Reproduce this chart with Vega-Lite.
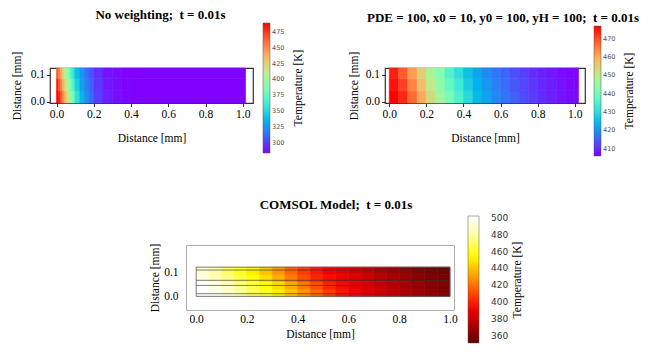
{
  "$schema": "https://vega.github.io/schema/vega-lite/v6.json",
  "background": "white",
  "padding": {"left": 10, "top": 8, "right": 5, "bottom": 5},
  "config": {
    "view": {"stroke": "#333", "strokeWidth": 1.2},
    "font": "Liberation Serif",
    "title": {"font": "Liberation Serif", "fontSize": 13, "fontWeight": "bold", "color": "black"},
    "axis": {"labelFont": "Liberation Serif", "labelFontSize": 11.5, "labelColor": "black", "titleFont": "Liberation Serif", "titleFontSize": 11.5, "titleFontWeight": "normal", "titleColor": "black", "grid": false, "domain": false, "tickColor": "#333", "tickSize": 3.5, "labelPadding": 2},
    "legend": {"direction": "vertical", "gradientThickness": 7, "gradientLength": 130, "labelFont": "DejaVu Sans", "labelFontSize": 6.5, "labelColor": "#555", "labelOffset": 5, "titleFont": "Liberation Serif", "titleFontSize": 11.5, "titleFontWeight": "normal", "titleColor": "black", "titleOrient": "right", "titlePadding": 9, "titleAnchor": "middle", "titleLimit": 300, "gradientStrokeColor": "#555", "gradientStrokeWidth": 0.5}
  },
  "datasets": {
    "A": [
      {"x":0,"x2":0.01,"y":-0.005,"y2":0.04,"T":489},{"x":0.01,"x2":0.02,"y":-0.005,"y2":0.04,"T":482},{"x":0.02,"x2":0.03,"y":-0.005,"y2":0.04,"T":468},{"x":0.03,"x2":0.04,"y":-0.005,"y2":0.04,"T":454.5},{"x":0.04,"x2":0.05,"y":-0.005,"y2":0.04,"T":441},{"x":0.05,"x2":0.06,"y":-0.005,"y2":0.04,"T":426.5},{"x":0.06,"x2":0.07,"y":-0.005,"y2":0.04,"T":412},{"x":0.07,"x2":0.08,"y":-0.005,"y2":0.04,"T":398.5},{"x":0.08,"x2":0.09,"y":-0.005,"y2":0.04,"T":386},{"x":0.09,"x2":0.1,"y":-0.005,"y2":0.04,"T":374},{"x":0.1,"x2":0.125,"y":-0.005,"y2":0.04,"T":355},{"x":0.125,"x2":0.15,"y":-0.005,"y2":0.04,"T":336},{"x":0.15,"x2":0.175,"y":-0.005,"y2":0.04,"T":323},{"x":0.175,"x2":0.2,"y":-0.005,"y2":0.04,"T":312},{"x":0.2,"x2":0.25,"y":-0.005,"y2":0.04,"T":300},{"x":0.25,"x2":0.3,"y":-0.005,"y2":0.04,"T":291.5},{"x":0.3,"x2":0.35,"y":-0.005,"y2":0.04,"T":287.5},{"x":0.35,"x2":0.4,"y":-0.005,"y2":0.04,"T":285.5},{"x":0.4,"x2":1.015,"y":-0.005,"y2":0.04,"T":284},
      {"x":0,"x2":0.01,"y":0.04,"y2":0.085,"T":482},{"x":0.01,"x2":0.02,"y":0.04,"y2":0.085,"T":468},{"x":0.02,"x2":0.03,"y":0.04,"y2":0.085,"T":454.5},{"x":0.03,"x2":0.04,"y":0.04,"y2":0.085,"T":441},{"x":0.04,"x2":0.05,"y":0.04,"y2":0.085,"T":426.5},{"x":0.05,"x2":0.06,"y":0.04,"y2":0.085,"T":412},{"x":0.06,"x2":0.07,"y":0.04,"y2":0.085,"T":398.5},{"x":0.07,"x2":0.08,"y":0.04,"y2":0.085,"T":386},{"x":0.08,"x2":0.09,"y":0.04,"y2":0.085,"T":374},{"x":0.09,"x2":0.1,"y":0.04,"y2":0.085,"T":362.5},{"x":0.1,"x2":0.125,"y":0.04,"y2":0.085,"T":347},{"x":0.125,"x2":0.15,"y":0.04,"y2":0.085,"T":330.5},{"x":0.15,"x2":0.175,"y":0.04,"y2":0.085,"T":318.5},{"x":0.175,"x2":0.2,"y":0.04,"y2":0.085,"T":308.5},{"x":0.2,"x2":0.25,"y":0.04,"y2":0.085,"T":298},{"x":0.25,"x2":0.3,"y":0.04,"y2":0.085,"T":290},{"x":0.3,"x2":0.35,"y":0.04,"y2":0.085,"T":287},{"x":0.35,"x2":0.4,"y":0.04,"y2":0.085,"T":285},{"x":0.4,"x2":1.015,"y":0.04,"y2":0.085,"T":284},
      {"x":0,"x2":0.01,"y":0.085,"y2":0.125,"T":468},{"x":0.01,"x2":0.02,"y":0.085,"y2":0.125,"T":454.5},{"x":0.02,"x2":0.03,"y":0.085,"y2":0.125,"T":441},{"x":0.03,"x2":0.04,"y":0.085,"y2":0.125,"T":426.5},{"x":0.04,"x2":0.05,"y":0.085,"y2":0.125,"T":412},{"x":0.05,"x2":0.06,"y":0.085,"y2":0.125,"T":398.5},{"x":0.06,"x2":0.07,"y":0.085,"y2":0.125,"T":386},{"x":0.07,"x2":0.08,"y":0.085,"y2":0.125,"T":374},{"x":0.08,"x2":0.09,"y":0.085,"y2":0.125,"T":362.5},{"x":0.09,"x2":0.1,"y":0.085,"y2":0.125,"T":353},{"x":0.1,"x2":0.125,"y":0.085,"y2":0.125,"T":339},{"x":0.125,"x2":0.15,"y":0.085,"y2":0.125,"T":325},{"x":0.15,"x2":0.175,"y":0.085,"y2":0.125,"T":314},{"x":0.175,"x2":0.2,"y":0.085,"y2":0.125,"T":305},{"x":0.2,"x2":0.25,"y":0.085,"y2":0.125,"T":296.5},{"x":0.25,"x2":0.3,"y":0.085,"y2":0.125,"T":289},{"x":0.3,"x2":0.35,"y":0.085,"y2":0.125,"T":286.5},{"x":0.35,"x2":0.4,"y":0.085,"y2":0.125,"T":284.5},{"x":0.4,"x2":1.015,"y":0.085,"y2":0.125,"T":284}
    ],
    "B": [
      {"x":0,"x2":0.05,"y":-0.005,"y2":0.04,"T":476.7},{"x":0.05,"x2":0.1,"y":-0.005,"y2":0.04,"T":473.4},{"x":0.1,"x2":0.15,"y":-0.005,"y2":0.04,"T":467.3},{"x":0.15,"x2":0.2,"y":-0.005,"y2":0.04,"T":460.3},{"x":0.2,"x2":0.25,"y":-0.005,"y2":0.04,"T":453.3},{"x":0.25,"x2":0.3,"y":-0.005,"y2":0.04,"T":446.4},{"x":0.3,"x2":0.35,"y":-0.005,"y2":0.04,"T":440.4},{"x":0.35,"x2":0.4,"y":-0.005,"y2":0.04,"T":434.5},{"x":0.4,"x2":0.45,"y":-0.005,"y2":0.04,"T":429.5},{"x":0.45,"x2":0.5,"y":-0.005,"y2":0.04,"T":424.7},{"x":0.5,"x2":0.55,"y":-0.005,"y2":0.04,"T":421.7},{"x":0.55,"x2":0.6,"y":-0.005,"y2":0.04,"T":418.8},{"x":0.6,"x2":0.65,"y":-0.005,"y2":0.04,"T":416.8},{"x":0.65,"x2":0.7,"y":-0.005,"y2":0.04,"T":414.8},{"x":0.7,"x2":0.75,"y":-0.005,"y2":0.04,"T":412.9},{"x":0.75,"x2":0.8,"y":-0.005,"y2":0.04,"T":411.4},{"x":0.8,"x2":0.85,"y":-0.005,"y2":0.04,"T":409.9},{"x":0.85,"x2":0.9,"y":-0.005,"y2":0.04,"T":408.9},{"x":0.9,"x2":0.95,"y":-0.005,"y2":0.04,"T":407.9},{"x":0.95,"x2":1.0,"y":-0.005,"y2":0.04,"T":407},{"x":1.0,"x2":1.02,"y":-0.005,"y2":0.04,"T":406.6},
      {"x":0,"x2":0.05,"y":0.04,"y2":0.085,"T":475.5},{"x":0.05,"x2":0.1,"y":0.04,"y2":0.085,"T":471},{"x":0.1,"x2":0.15,"y":0.04,"y2":0.085,"T":464.5},{"x":0.15,"x2":0.2,"y":0.04,"y2":0.085,"T":457.5},{"x":0.2,"x2":0.25,"y":0.04,"y2":0.085,"T":450.5},{"x":0.25,"x2":0.3,"y":0.04,"y2":0.085,"T":444},{"x":0.3,"x2":0.35,"y":0.04,"y2":0.085,"T":438},{"x":0.35,"x2":0.4,"y":0.04,"y2":0.085,"T":432.5},{"x":0.4,"x2":0.45,"y":0.04,"y2":0.085,"T":427.5},{"x":0.45,"x2":0.5,"y":0.04,"y2":0.085,"T":423.5},{"x":0.5,"x2":0.55,"y":0.04,"y2":0.085,"T":420.5},{"x":0.55,"x2":0.6,"y":0.04,"y2":0.085,"T":418},{"x":0.6,"x2":0.65,"y":0.04,"y2":0.085,"T":416},{"x":0.65,"x2":0.7,"y":0.04,"y2":0.085,"T":414},{"x":0.7,"x2":0.75,"y":0.04,"y2":0.085,"T":412.3},{"x":0.75,"x2":0.8,"y":0.04,"y2":0.085,"T":410.8},{"x":0.8,"x2":0.85,"y":0.04,"y2":0.085,"T":409.5},{"x":0.85,"x2":0.9,"y":0.04,"y2":0.085,"T":408.5},{"x":0.9,"x2":0.95,"y":0.04,"y2":0.085,"T":407.5},{"x":0.95,"x2":1.0,"y":0.04,"y2":0.085,"T":406.8},{"x":1.0,"x2":1.02,"y":0.04,"y2":0.085,"T":406.3},
      {"x":0,"x2":0.05,"y":0.085,"y2":0.125,"T":474.3},{"x":0.05,"x2":0.1,"y":0.085,"y2":0.125,"T":468.6},{"x":0.1,"x2":0.15,"y":0.085,"y2":0.125,"T":461.7},{"x":0.15,"x2":0.2,"y":0.085,"y2":0.125,"T":454.7},{"x":0.2,"x2":0.25,"y":0.085,"y2":0.125,"T":447.7},{"x":0.25,"x2":0.3,"y":0.085,"y2":0.125,"T":441.6},{"x":0.3,"x2":0.35,"y":0.085,"y2":0.125,"T":435.6},{"x":0.35,"x2":0.4,"y":0.085,"y2":0.125,"T":430.5},{"x":0.4,"x2":0.45,"y":0.085,"y2":0.125,"T":425.5},{"x":0.45,"x2":0.5,"y":0.085,"y2":0.125,"T":422.3},{"x":0.5,"x2":0.55,"y":0.085,"y2":0.125,"T":419.3},{"x":0.55,"x2":0.6,"y":0.085,"y2":0.125,"T":417.2},{"x":0.6,"x2":0.65,"y":0.085,"y2":0.125,"T":415.2},{"x":0.65,"x2":0.7,"y":0.085,"y2":0.125,"T":413.2},{"x":0.7,"x2":0.75,"y":0.085,"y2":0.125,"T":411.7},{"x":0.75,"x2":0.8,"y":0.085,"y2":0.125,"T":410.2},{"x":0.8,"x2":0.85,"y":0.085,"y2":0.125,"T":409.1},{"x":0.85,"x2":0.9,"y":0.085,"y2":0.125,"T":408.1},{"x":0.9,"x2":0.95,"y":0.085,"y2":0.125,"T":407.1},{"x":0.95,"x2":1.0,"y":0.085,"y2":0.125,"T":406.5},{"x":1.0,"x2":1.02,"y":0.085,"y2":0.125,"T":406.1}
    ],
    "C": [
      {"x":0,"x2":0.05,"y":0,"y2":0.03,"T":502},{"x":0.05,"x2":0.1,"y":0,"y2":0.03,"T":499},{"x":0.1,"x2":0.15,"y":0,"y2":0.03,"T":490},{"x":0.15,"x2":0.2,"y":0,"y2":0.03,"T":480},{"x":0.2,"x2":0.25,"y":0,"y2":0.03,"T":470},{"x":0.25,"x2":0.3,"y":0,"y2":0.03,"T":460.5},{"x":0.3,"x2":0.35,"y":0,"y2":0.03,"T":451},{"x":0.35,"x2":0.4,"y":0,"y2":0.03,"T":440.5},{"x":0.4,"x2":0.45,"y":0,"y2":0.03,"T":429},{"x":0.45,"x2":0.5,"y":0,"y2":0.03,"T":417.5},{"x":0.5,"x2":0.55,"y":0,"y2":0.03,"T":407},{"x":0.55,"x2":0.6,"y":0,"y2":0.03,"T":398.5},{"x":0.6,"x2":0.65,"y":0,"y2":0.03,"T":392.5},{"x":0.65,"x2":0.7,"y":0,"y2":0.03,"T":387.5},{"x":0.7,"x2":0.75,"y":0,"y2":0.03,"T":382.5},{"x":0.75,"x2":0.8,"y":0,"y2":0.03,"T":377.5},{"x":0.8,"x2":0.85,"y":0,"y2":0.03,"T":373},{"x":0.85,"x2":0.9,"y":0,"y2":0.03,"T":369},{"x":0.9,"x2":0.95,"y":0,"y2":0.03,"T":365},{"x":0.95,"x2":1.0,"y":0,"y2":0.03,"T":361.5},
      {"x":0,"x2":0.05,"y":0.03,"y2":0.06,"T":502},{"x":0.05,"x2":0.1,"y":0.03,"y2":0.06,"T":495},{"x":0.1,"x2":0.15,"y":0.03,"y2":0.06,"T":485},{"x":0.15,"x2":0.2,"y":0.03,"y2":0.06,"T":475},{"x":0.2,"x2":0.25,"y":0.03,"y2":0.06,"T":465},{"x":0.25,"x2":0.3,"y":0.03,"y2":0.06,"T":456},{"x":0.3,"x2":0.35,"y":0.03,"y2":0.06,"T":446},{"x":0.35,"x2":0.4,"y":0.03,"y2":0.06,"T":435},{"x":0.4,"x2":0.45,"y":0.03,"y2":0.06,"T":423},{"x":0.45,"x2":0.5,"y":0.03,"y2":0.06,"T":412},{"x":0.5,"x2":0.55,"y":0.03,"y2":0.06,"T":402},{"x":0.55,"x2":0.6,"y":0.03,"y2":0.06,"T":395},{"x":0.6,"x2":0.65,"y":0.03,"y2":0.06,"T":390},{"x":0.65,"x2":0.7,"y":0.03,"y2":0.06,"T":385},{"x":0.7,"x2":0.75,"y":0.03,"y2":0.06,"T":380},{"x":0.75,"x2":0.8,"y":0.03,"y2":0.06,"T":375},{"x":0.8,"x2":0.85,"y":0.03,"y2":0.06,"T":371},{"x":0.85,"x2":0.9,"y":0.03,"y2":0.06,"T":367},{"x":0.9,"x2":0.95,"y":0.03,"y2":0.06,"T":363},{"x":0.95,"x2":1.0,"y":0.03,"y2":0.06,"T":360},
      {"x":0,"x2":0.05,"y":0.06,"y2":0.09,"T":495},{"x":0.05,"x2":0.1,"y":0.06,"y2":0.09,"T":485},{"x":0.1,"x2":0.15,"y":0.06,"y2":0.09,"T":475},{"x":0.15,"x2":0.2,"y":0.06,"y2":0.09,"T":465},{"x":0.2,"x2":0.25,"y":0.06,"y2":0.09,"T":456},{"x":0.25,"x2":0.3,"y":0.06,"y2":0.09,"T":446},{"x":0.3,"x2":0.35,"y":0.06,"y2":0.09,"T":435},{"x":0.35,"x2":0.4,"y":0.06,"y2":0.09,"T":423},{"x":0.4,"x2":0.45,"y":0.06,"y2":0.09,"T":412},{"x":0.45,"x2":0.5,"y":0.06,"y2":0.09,"T":402},{"x":0.5,"x2":0.55,"y":0.06,"y2":0.09,"T":395},{"x":0.55,"x2":0.6,"y":0.06,"y2":0.09,"T":390},{"x":0.6,"x2":0.65,"y":0.06,"y2":0.09,"T":385},{"x":0.65,"x2":0.7,"y":0.06,"y2":0.09,"T":380},{"x":0.7,"x2":0.75,"y":0.06,"y2":0.09,"T":375},{"x":0.75,"x2":0.8,"y":0.06,"y2":0.09,"T":371},{"x":0.8,"x2":0.85,"y":0.06,"y2":0.09,"T":367},{"x":0.85,"x2":0.9,"y":0.06,"y2":0.09,"T":363},{"x":0.9,"x2":0.95,"y":0.06,"y2":0.09,"T":360},{"x":0.95,"x2":1.0,"y":0.06,"y2":0.09,"T":358},
      {"x":0,"x2":0.05,"y":0.09,"y2":0.12,"T":490},{"x":0.05,"x2":0.1,"y":0.09,"y2":0.12,"T":480},{"x":0.1,"x2":0.15,"y":0.09,"y2":0.12,"T":470},{"x":0.15,"x2":0.2,"y":0.09,"y2":0.12,"T":460.5},{"x":0.2,"x2":0.25,"y":0.09,"y2":0.12,"T":451},{"x":0.25,"x2":0.3,"y":0.09,"y2":0.12,"T":440.5},{"x":0.3,"x2":0.35,"y":0.09,"y2":0.12,"T":429},{"x":0.35,"x2":0.4,"y":0.09,"y2":0.12,"T":417.5},{"x":0.4,"x2":0.45,"y":0.09,"y2":0.12,"T":407},{"x":0.45,"x2":0.5,"y":0.09,"y2":0.12,"T":398.5},{"x":0.5,"x2":0.55,"y":0.09,"y2":0.12,"T":392.5},{"x":0.55,"x2":0.6,"y":0.09,"y2":0.12,"T":387.5},{"x":0.6,"x2":0.65,"y":0.09,"y2":0.12,"T":382.5},{"x":0.65,"x2":0.7,"y":0.09,"y2":0.12,"T":377.5},{"x":0.7,"x2":0.75,"y":0.09,"y2":0.12,"T":373},{"x":0.75,"x2":0.8,"y":0.09,"y2":0.12,"T":369},{"x":0.8,"x2":0.85,"y":0.09,"y2":0.12,"T":365},{"x":0.85,"x2":0.9,"y":0.09,"y2":0.12,"T":361.5},{"x":0.9,"x2":0.95,"y":0.09,"y2":0.12,"T":359},{"x":0.95,"x2":1.0,"y":0.09,"y2":0.12,"T":357}
    ],
    "mesh": [
      {"x":0,"x2":1,"y":0.011},{"x":0,"x2":1,"y":0.045},{"x":0,"x2":1,"y":0.066},{"x":0,"x2":1,"y":0.108}
    ],
    "box": [{"x":0,"x2":1,"y":0,"y2":0.12}]
  },
  "vconcat": [
    {
      "hconcat": [
        {
          "width": 203, "height": 35,
          "title": {"text": "No weighting;\u00a0 t = 0.01s", "dx": 9, "offset": 1},
          "data": {"name": "A"},
          "mark": {"type": "rect", "strokeWidth": 0.6},
          "encoding": {
            "x": {"field": "x", "type": "quantitative", "scale": {"domain": [-0.035, 1.055], "nice": false, "zero": false}, "axis": {"values": [0, 0.2, 0.4, 0.6, 0.8, 1.0], "format": ".1f", "title": "Distance [mm]", "titlePadding": 12}},
            "x2": {"field": "x2"},
            "y": {"field": "y", "type": "quantitative", "scale": {"domain": [-0.005, 0.125], "nice": false, "zero": false}, "axis": {"values": [0, 0.1], "format": ".1f", "title": "Distance [mm]", "titlePadding": 8}},
            "y2": {"field": "y2"},
            "color": {"field": "T", "type": "quantitative", "scale": {"domain": [284, 309.625, 335.25, 360.875, 386.5, 412.125, 437.75, 463.375, 489], "range": ["#8000ff", "#4062fa", "#00b5eb", "#40ecd4", "#80ffb4", "#c0eb8d", "#ffb360", "#ff6232", "#ff0000"], "interpolate": "rgb"}, "legend": {"title": "Temperature [K]", "orient": "none", "legendX": 213, "legendY": -45, "values": [300, 325, 350, 375, 400, 425, 450, 475], "encode": {"title": {"update": {"angle": {"value": 270}, "baseline": {"value": "top"}}}}}},
            "stroke": {"field": "T", "type": "quantitative", "scale": {"domain": [284.01, 309.625, 335.25, 360.875, 386.5, 412.125, 437.75, 463.375, 489], "range": ["#8000ff", "#4062fa", "#00b5eb", "#40ecd4", "#80ffb4", "#c0eb8d", "#ffb360", "#ff6232", "#ff0000"], "interpolate": "rgb"}, "legend": null}
          }
        },
        {
          "width": 200, "height": 35,
          "title": {"text": "PDE = 100, x0 = 10, y0 = 100, yH = 100;\u00a0 t = 0.01s", "dx": 18, "offset": 1},
          "data": {"name": "B"},
          "mark": {"type": "rect", "strokeWidth": 0.6},
          "encoding": {
            "x": {"field": "x", "type": "quantitative", "scale": {"domain": [-0.023, 1.055], "nice": false, "zero": false}, "axis": {"values": [0, 0.2, 0.4, 0.6, 0.8, 1.0], "format": ".1f", "title": "Distance [mm]", "titlePadding": 12}},
            "x2": {"field": "x2"},
            "y": {"field": "y", "type": "quantitative", "scale": {"domain": [-0.005, 0.125], "nice": false, "zero": false}, "axis": {"values": [0, 0.1], "format": ".1f", "title": "Distance [mm]", "titlePadding": 6}},
            "y2": {"field": "y2"},
            "color": {"field": "T", "type": "quantitative", "scale": {"domain": [406, 414.875, 423.75, 432.625, 441.5, 450.375, 459.25, 468.125, 477], "range": ["#8000ff", "#4062fa", "#00b5eb", "#40ecd4", "#80ffb4", "#c0eb8d", "#ffb360", "#ff6232", "#ff0000"], "interpolate": "rgb"}, "legend": {"title": "Temperature [K]", "orient": "none", "legendX": 209, "legendY": -42, "values": [410, 420, 430, 440, 450, 460, 470], "encode": {"title": {"update": {"angle": {"value": 270}, "baseline": {"value": "top"}}}}}},
            "stroke": {"field": "T", "type": "quantitative", "scale": {"domain": [406.01, 414.875, 423.75, 432.625, 441.5, 450.375, 459.25, 468.125, 477], "range": ["#8000ff", "#4062fa", "#00b5eb", "#40ecd4", "#80ffb4", "#c0eb8d", "#ffb360", "#ff6232", "#ff0000"], "interpolate": "rgb"}, "legend": null}
          }
        }
      ],
      "spacing": 132,
      "bounds": "flush",
      "resolve": {"scale": {"color": "independent", "stroke": "independent", "x": "independent", "y": "independent"}, "legend": {"color": "independent", "stroke": "independent"}}
    },
    {
      "hconcat": [
        {
          "width": 1, "height": 1,
          "data": {"values": []},
          "mark": "point",
          "view": {"stroke": null}
        },
        {
          "width": 268, "height": 65,
          "title": {"text": "COMSOL Model;\u00a0 t = 0.01s", "dx": 16, "offset": 4},
          "view": {"stroke": "#b0b0b0", "strokeWidth": 1},
          "layer": [
            {
              "data": {"name": "C"},
              "mark": {"type": "rect", "strokeWidth": 0.6},
              "encoding": {
                "x": {"field": "x", "type": "quantitative", "scale": {"domain": [-0.04, 1.016], "nice": false, "zero": false}, "axis": {"values": [0, 0.2, 0.4, 0.6, 0.8, 1.0], "format": ".1f", "title": "Distance [mm]", "titlePadding": 4, "ticks": false, "labelPadding": 3}},
                "x2": {"field": "x2"},
                "y": {"field": "y", "type": "quantitative", "scale": {"domain": [-0.056, 0.211], "nice": false, "zero": false}, "axis": {"values": [0, 0.1], "format": ".1f", "title": "Distance [mm]", "titlePadding": 3, "ticks": false, "labelPadding": 8}},
                "y2": {"field": "y2"},
                "color": {"field": "T", "type": "quantitative", "scale": {"domain": [352, 365, 380, 392, 410, 430, 455, 480, 502], "range": ["#5e0000", "#8f0000", "#c80000", "#f00000", "#ff4500", "#ff9a00", "#ffff00", "#ffffa8", "#ffffff"], "interpolate": "rgb"}, "legend": {"title": "Temperature [K]", "orient": "none", "legendX": 282, "legendY": -29, "gradientLength": 127, "gradientThickness": 11, "labelFontSize": 9, "labelColor": "#333", "labelOffset": 12, "titlePadding": 4, "values": [360, 380, 400, 420, 440, 460, 480, 500], "encode": {"title": {"update": {"angle": {"value": 270}, "baseline": {"value": "top"}}}}}},
                "stroke": {"field": "T", "type": "quantitative", "scale": {"domain": [352.01, 365, 380, 392, 410, 430, 455, 480, 502], "range": ["#5e0000", "#8f0000", "#c80000", "#f00000", "#ff4500", "#ff9a00", "#ffff00", "#ffffa8", "#ffffff"], "interpolate": "rgb"}, "legend": null}
              }
            },
            {
              "data": {"name": "mesh"},
              "mark": {"type": "rule", "color": "#333", "strokeWidth": 0.8, "opacity": 0.8},
              "encoding": {
                "x": {"field": "x", "type": "quantitative", "scale": {"domain": [-0.04, 1.016], "nice": false, "zero": false}},
                "x2": {"field": "x2"},
                "y": {"field": "y", "type": "quantitative", "scale": {"domain": [-0.056, 0.211], "nice": false, "zero": false}}
              }
            },
            {
              "data": {"name": "box"},
              "mark": {"type": "rect", "filled": false, "stroke": "#555", "strokeWidth": 0.8},
              "encoding": {
                "x": {"field": "x", "type": "quantitative", "scale": {"domain": [-0.04, 1.016], "nice": false, "zero": false}},
                "x2": {"field": "x2"},
                "y": {"field": "y", "type": "quantitative", "scale": {"domain": [-0.056, 0.211], "nice": false, "zero": false}},
                "y2": {"field": "y2"}
              }
            }
          ]
        }
      ],
      "spacing": 135,
      "bounds": "flush",
      "resolve": {"scale": {"color": "independent", "stroke": "independent", "x": "independent", "y": "independent"}, "legend": {"color": "independent", "stroke": "independent"}}
    }
  ],
  "spacing": 177,
  "bounds": "flush",
  "resolve": {"scale": {"color": "independent", "stroke": "independent", "x": "independent", "y": "independent"}, "legend": {"color": "independent", "stroke": "independent"}}
}
